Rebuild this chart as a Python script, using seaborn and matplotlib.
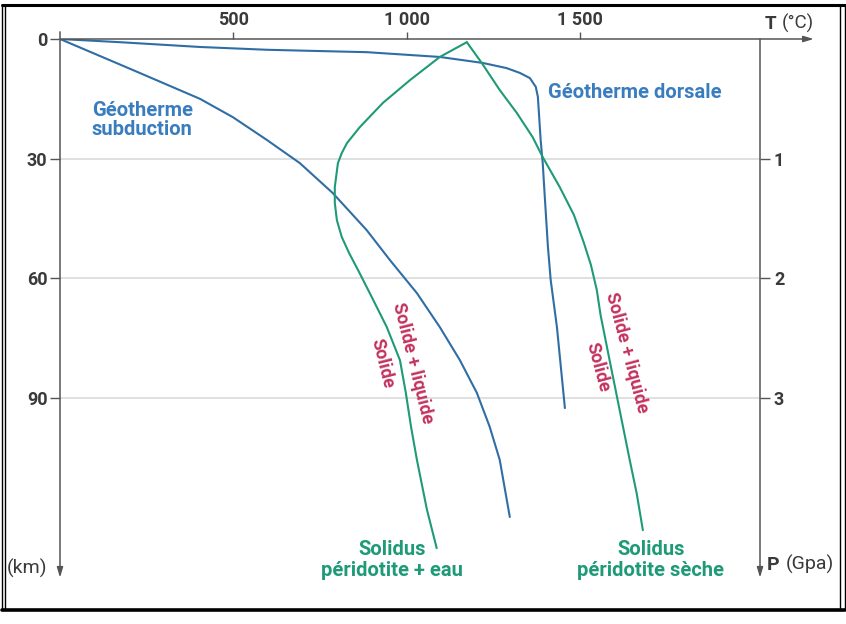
import matplotlib
matplotlib.use("Agg")
import matplotlib.pyplot as plt
from matplotlib.lines import Line2D
import seaborn as sns

# Géotherme dorsale : température (°C) / profondeur (km)
dorsale_t = [0, 173, 404, 597, 692, 885, 1096, 1220, 1289, 1327, 1356, 1373,
             1379, 1382, 1387, 1393, 1399, 1408, 1416, 1434, 1457]
dorsale_z = [0, 0.8, 2.0, 2.7, 2.9, 3.3, 4.5, 6.0, 7.3, 8.5, 9.8, 12.0,
             14.5, 18.5, 25.3, 31.1, 39.6, 52.1, 60.4, 72.2, 92.5]

# Géotherme subduction
subduction_t = [0, 211, 404, 499, 597, 692, 787, 885, 952, 1030, 1096, 1154,
                1203, 1240, 1269, 1298]
subduction_z = [0, 7.8, 15.0, 19.6, 25.3, 31.1, 38.6, 47.9, 55.4, 63.7, 72.2,
                80.5, 88.7, 97.2, 105.5, 119.8]

# Solidus péridotite + eau
wet_t = [1174, 1096, 1010, 932, 865, 828, 813, 802, 793, 793, 799, 813, 834,
         860, 894, 943, 981, 998, 1013, 1030, 1059, 1087]
wet_z = [0.8, 4.5, 10.3, 16.0, 22.1, 26.1, 28.6, 31.1, 37.1, 41.1, 45.4,
         49.6, 53.6, 57.9, 63.7, 72.2, 80.5, 88.7, 97.2, 105.5, 118.0, 127.6]

# Solidus péridotite sèche
dry_t = [1174, 1217, 1269, 1318, 1364, 1393, 1442, 1483, 1511, 1532, 1549,
         1560, 1586, 1615, 1644, 1664, 1682]
dry_z = [0.8, 6.0, 12.8, 18.5, 24.6, 29.6, 37.1, 44.1, 50.9, 56.6, 62.9,
         69.2, 80.5, 93.0, 105.5, 113.8, 123.1]

depth_ticks = [0, 30, 60, 90]
temp_ticks = [500, 1000, 1500]
temp_labels = ["500", "1 000", "1 500"]
press_ticks = [1, 2, 3]

BLUE = "#2f6ea5"
BLUE_TXT = "#3a7dbf"
GREEN = "#1f9a77"
RED = "#c4325e"
GREY = "#555555"
TXT = "#3a3a3a"

sns.set_style("white")
plt.rcParams["font.family"] = ["Roboto", "DejaVu Sans"]

W, H = 846, 624
fig = plt.figure(figsize=(W / 100, H / 100), dpi=100)
x0, x1 = 60, 760
y0, y1 = 39, 577.65
ax = fig.add_axes([x0 / W, 1 - y1 / H, (x1 - x0) / W, (y1 - y0) / H])

for t, z in [(dorsale_t, dorsale_z), (subduction_t, subduction_z)]:
    sns.lineplot(x=t, y=z, ax=ax, sort=False, estimator=None, color=BLUE, lw=1.5)
for t, z in [(wet_t, wet_z), (dry_t, dry_z)]:
    sns.lineplot(x=t, y=z, ax=ax, sort=False, estimator=None, color=GREEN, lw=1.5)

ax.set_xlim(0, 2020)
ax.set_ylim(135, 0)
for s in ax.spines.values():
    s.set_visible(False)

# grille légère
for d in depth_ticks[1:]:
    ax.axhline(d, color="#dadada", lw=1.2, zorder=0)

# axes fléchés
arrow = dict(arrowstyle="-|>,head_length=0.6,head_width=0.18", color=GREY, lw=1.1,
             shrinkA=0, shrinkB=0)
ax.annotate("", xy=(2175, 0), xytext=(0, 0), arrowprops=arrow, annotation_clip=False)
ax.annotate("", xy=(0, 135), xytext=(0, -1.8), arrowprops=arrow, annotation_clip=False)
ax.annotate("", xy=(2020, 135), xytext=(2020, 0), arrowprops=arrow, annotation_clip=False)

tick_font = dict(fontsize=13, fontweight="bold", color=TXT)
ax.xaxis.tick_top()
ax.set_xticks(temp_ticks)
ax.set_xticklabels(temp_labels, **tick_font)
ax.tick_params(axis="x", top=True, bottom=False, direction="out", length=5,
               width=1, color=GREY, pad=2)
ax.set_yticks(depth_ticks)
ax.set_yticklabels([str(d) for d in depth_ticks], **tick_font)
ax.tick_params(axis="y", left=True, direction="out", length=7, width=1,
               color=GREY, pad=2)

sec = ax.secondary_yaxis("right", functions=(lambda d: d / 30, lambda p: p * 30))
sec.set_yticks(press_ticks)
sec.set_yticklabels([str(p) for p in press_ticks], **tick_font)
sec.tick_params(axis="y", direction="out", length=7, width=1, color=GREY, pad=3)
for s in sec.spines.values():
    s.set_visible(False)

# étiquettes d'axes
ax.text(2033, -3.8, "T", fontsize=13.5, fontweight="bold", color=TXT,
        ha="left", va="center", clip_on=False)
ax.text(2084, -3.8, "(°C)", fontsize=13.5, color=TXT, ha="left", va="center",
        clip_on=False)
ax.text(2039, 131.8, "P", fontsize=14, fontweight="bold", color=TXT,
        ha="left", va="center", clip_on=False)
ax.text(2094, 131.8, "(Gpa)", fontsize=14, color=TXT, ha="left", va="center",
        clip_on=False)
ax.text(-95, 132.6, "(km)", fontsize=14, color=TXT, ha="center", va="center",
        clip_on=False)

# annotations
lab = dict(fontsize=14.5, fontweight="bold", clip_on=False)
ax.text(92, 20.3, "Géotherme\nsubduction", color=BLUE_TXT, ha="left",
        va="center", linespacing=1.05, **lab)
ax.text(1408, 13.5, "Géotherme dorsale", color=BLUE_TXT, ha="left",
        va="center", **lab)
ax.text(958, 130.6, "Solidus\npéridotite + eau", color=GREEN, ha="center",
        va="center", linespacing=1.1, **lab)
ax.text(1705, 130.6, "Solidus\npéridotite sèche", color=GREEN, ha="center",
        va="center", linespacing=1.1, **lab)

red = dict(fontsize=13, fontweight="bold", color=RED, ha="center", va="center",
           rotation_mode="anchor")
ax.text(1018, 81.2, "Solide + liquide", rotation=-76, **red)
ax.text(929, 81.2, "Solide", rotation=-76, **red)
ax.text(1635, 78.7, "Solide + liquide", rotation=-75, **red)
ax.text(1552, 82.2, "Solide", rotation=-75, **red)

# cadre
def fline(xs, ys, lw):
    fig.add_artist(Line2D([x / W for x in xs], [1 - y / H for y in ys],
                          color="black", lw=lw, transform=fig.transFigure))

fline([2, 845], [5, 5], 2.2)
fline([2, 845], [610, 610], 2.6)
fline([2, 2], [5, 610], 1.0)
fline([5, 5], [5, 610], 1.0)
fline([840, 840], [5, 610], 1.0)
fline([845, 845], [5, 610], 1.0)

fig.savefig("out.png", dpi=100, facecolor="white")
